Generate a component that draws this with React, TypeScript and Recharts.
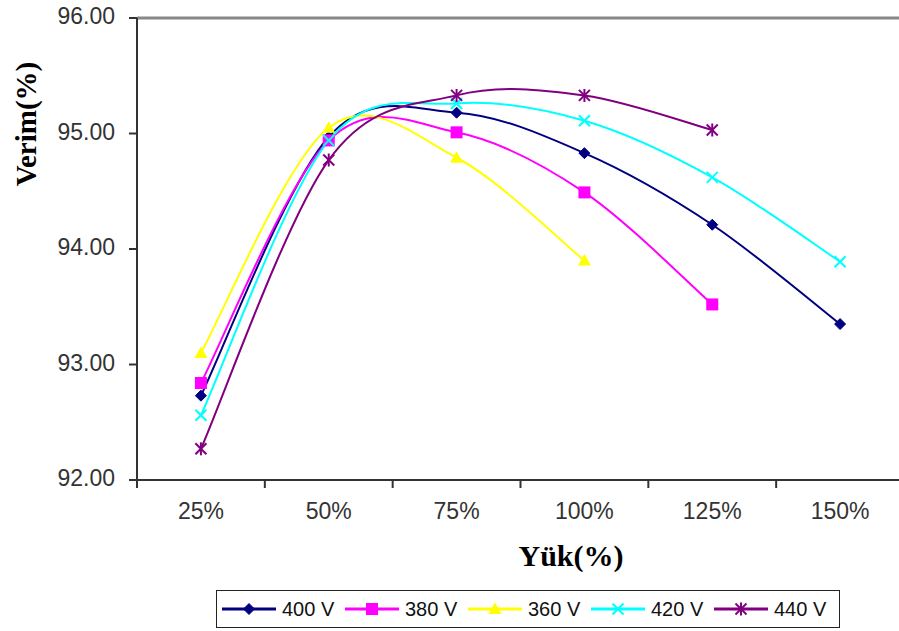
import React from 'react';
import { LineChart, Line, XAxis, YAxis, ReferenceLine } from 'recharts';

const categories = ['25%', '50%', '75%', '100%', '125%', '150%'];
const v400 = [92.73, 94.97, 95.18, 94.83, 94.21, 93.35];
const v380 = [92.84, 94.94, 95.01, 94.49, 93.52, null];
const v360 = [93.1, 95.05, 94.79, 93.9, null, null];
const v420 = [92.56, 94.94, 95.26, 95.11, 94.62, 93.89];
const v440 = [92.27, 94.77, 95.33, 95.33, 95.03, null];
const yTicks = [92, 93, 94, 95, 96];

const seriesList = [
  { key: 's400', name: '400 V', color: '#000080', shape: 'diamond', values: v400 },
  { key: 's380', name: '380 V', color: '#FF00FF', shape: 'square', values: v380 },
  { key: 's360', name: '360 V', color: '#FFFF00', shape: 'triangle', values: v360 },
  { key: 's420', name: '420 V', color: '#00FFFF', shape: 'x', values: v420 },
  { key: 's440', name: '440 V', color: '#800080', shape: 'star', values: v440 },
];

const data = categories.map((c, i) => {
  const row: any = { cat: c };
  seriesList.forEach((s) => {
    row[s.key] = s.values[i];
  });
  return row;
});

const FONT = "Arial, 'Liberation Sans', sans-serif";

// Excel-like smoothed curve (Catmull-Rom through the points)
const excelSmooth = (context: any) => {
  let pts: number[][] = [];
  return {
    areaStart() {},
    areaEnd() {},
    lineStart() {
      pts = [];
    },
    point(x: number, y: number) {
      pts.push([+x, +y]);
    },
    lineEnd() {
      const n = pts.length;
      if (!n) return;
      context.moveTo(pts[0][0], pts[0][1]);
      if (n === 1) return;
      for (let i = 0; i < n - 1; i++) {
        const p0 = pts[i - 1] || pts[i];
        const p1 = pts[i];
        const p2 = pts[i + 1];
        const p3 = pts[i + 2] || p2;
        const c1x = p1[0] + (p2[0] - p0[0]) / 6;
        const c1y = p1[1] + (p2[1] - p0[1]) / 6;
        const c2x = p2[0] - (p3[0] - p1[0]) / 6;
        const c2y = p2[1] - (p3[1] - p1[1]) / 6;
        context.bezierCurveTo(c1x, c1y, c2x, c2y, p2[0], p2[1]);
      }
    },
  };
};

const Marker = ({ shape, cx, cy, color }: any) => {
  const r = 5.5;
  if (shape === 'diamond') {
    return (
      <polygon
        points={`${cx},${cy - r} ${cx + r},${cy} ${cx},${cy + r} ${cx - r},${cy}`}
        fill={color}
        stroke={color}
        strokeWidth={1}
      />
    );
  }
  if (shape === 'square') {
    return <rect x={cx - 6} y={cy - 6} width={12} height={12} fill={color} />;
  }
  if (shape === 'triangle') {
    return (
      <polygon
        points={`${cx},${cy - 6.5} ${cx + 6.5},${cy + 5} ${cx - 6.5},${cy + 5}`}
        fill={color}
      />
    );
  }
  if (shape === 'x') {
    return (
      <g stroke={color} strokeWidth={2}>
        <line x1={cx - r} y1={cy - r} x2={cx + r} y2={cy + r} />
        <line x1={cx - r} y1={cy + r} x2={cx + r} y2={cy - r} />
      </g>
    );
  }
  return (
    <g stroke={color} strokeWidth={2}>
      <line x1={cx - r} y1={cy - r} x2={cx + r} y2={cy + r} />
      <line x1={cx - r} y1={cy + r} x2={cx + r} y2={cy - r} />
      <line x1={cx} y1={cy - r - 1} x2={cx} y2={cy + r + 1} />
    </g>
  );
};

const makeDot = (shape: string, color: string) => (props: any) => {
  const { cx, cy, index, value } = props;
  if (cx == null || cy == null || value == null || isNaN(cy)) return <g key={`d-${index}`} />;
  return (
    <g key={`d-${index}`}>
      <Marker shape={shape} cx={cx} cy={cy} color={color} />
    </g>
  );
};

const XTick = (props: any) => {
  const { x, y, payload, index, visibleTicksCount, width } = props;
  let step = 0;
  if (payload && payload.offset) step = payload.offset * 2;
  else step = width / visibleTicksCount;
  const half = step / 2;
  const last = index === visibleTicksCount - 1;
  return (
    <g>
      <line x1={x - half} x2={x - half} y1={y} y2={y + 8} stroke="#333" strokeWidth={2} />
      {last && <line x1={x + half} x2={x + half} y1={y} y2={y + 8} stroke="#333" strokeWidth={2} />}
      <text x={x} y={y + 39} textAnchor="middle" style={{ fontSize: 23, fontFamily: FONT }} fill="#333">
        {payload.value}
      </text>
    </g>
  );
};

const YTick = (props: any) => {
  const { x, y, payload } = props;
  return (
    <text x={x} y={y + 6} textAnchor="end" style={{ fontSize: 23, fontFamily: FONT }} fill="#333">
      {Number(payload.value).toFixed(2)}
    </text>
  );
};

export default function App() {
  return (
    <div
      style={{
        position: 'absolute',
        left: 0,
        top: 0,
        width: 899,
        height: 631,
        overflow: 'hidden',
        background: '#fff',
      }}
    >
      <LineChart width={904} height={631} data={data} margin={{ top: 18, right: 0, bottom: 111, left: 0 }}>
        <ReferenceLine y={96} stroke="#888" strokeWidth={3} ifOverflow="visible" />
        <XAxis
          dataKey="cat"
          scale="band"
          height={40}
          tickLine={false}
          tickSize={0}
          tickMargin={0}
          axisLine={{ stroke: '#333', strokeWidth: 2 }}
          tick={<XTick />}
          interval={0}
        />
        <YAxis
          width={137}
          domain={[92, 96]}
          ticks={yTicks}
          type="number"
          allowDataOverflow
          tickSize={8}
          tickMargin={14}
          tickLine={{ stroke: '#333', strokeWidth: 2 }}
          axisLine={{ stroke: '#333', strokeWidth: 2 }}
          tick={<YTick />}
        />
        {seriesList.map((s) => (
          <Line
            key={s.key}
            dataKey={s.key}
            name={s.name}
            type={excelSmooth as any}
            stroke={s.color}
            strokeWidth={2}
            dot={makeDot(s.shape, s.color)}
            activeDot={false}
            isAnimationActive={false}
            connectNulls={false}
          />
        ))}
      </LineChart>

      <div
        style={{
          position: 'absolute',
          left: 26,
          top: 124,
          transform: 'translate(-50%, -50%) rotate(-90deg)',
          fontFamily: "'Times New Roman', 'Liberation Serif', serif",
          fontWeight: 'bold',
          fontSize: 29,
          lineHeight: 1,
          whiteSpace: 'nowrap',
          color: '#000',
        }}
      >
        Verim(%)
      </div>
      <div
        style={{
          position: 'absolute',
          left: 571,
          top: 556,
          transform: 'translate(-50%, -50%)',
          fontFamily: "'Times New Roman', 'Liberation Serif', serif",
          fontWeight: 'bold',
          fontSize: 30,
          lineHeight: 1,
          whiteSpace: 'nowrap',
          color: '#000',
        }}
      >
        Yük(%)
      </div>

      <div
        style={{
          position: 'absolute',
          left: 216,
          top: 590,
          width: 624,
          height: 38,
          boxSizing: 'border-box',
          border: '1.5px solid #222',
          display: 'flex',
          alignItems: 'center',
          paddingLeft: 5,
          fontFamily: FONT,
          fontSize: 20,
          color: '#111',
        }}
      >
        {seriesList.map((s) => (
          <div key={s.key} style={{ display: 'flex', alignItems: 'center', width: 123, flex: 'none' }}>
            <svg width={54} height={20} style={{ display: 'block' }}>
              <line x1={0} x2={54} y1={10} y2={10} stroke={s.color} strokeWidth={3} />
              <Marker shape={s.shape} cx={27} cy={10} color={s.color} />
            </svg>
            <span style={{ marginLeft: 6, whiteSpace: 'nowrap' }}>{s.name}</span>
          </div>
        ))}
      </div>
    </div>
  );
}
